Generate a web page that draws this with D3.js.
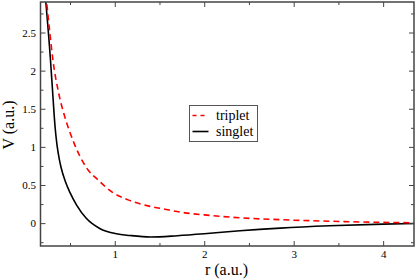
<!DOCTYPE html>
<html><head><meta charset="utf-8">
<script src="https://cdn.jsdelivr.net/npm/d3@7/dist/d3.min.js"></script>
<style>
body{margin:0;background:#fff}
svg{display:block}
svg text{font-family:"Liberation Serif","Times New Roman","DejaVu Serif","Nimbus Roman","FreeSerif",serif !important;}
</style>
</head><body>
<script>
// Data (r in a.u., V in a.u.)
const singletR = [0.222, 0.281, 0.304, 0.333, 0.355, 0.38, 0.40, 0.45, 0.50, 0.572, 0.684, 0.832, 1.019, 1.168, 1.4, 1.7, 2.0, 2.4, 2.85, 3.4, 4.0, 4.345];
const singletV = [3.0, 2.15, 1.75, 1.26, 1.02, 0.84, 0.73, 0.54, 0.40, 0.24, 0.06, -0.07, -0.14, -0.162, -0.182, -0.165, -0.14, -0.10, -0.065, -0.035, -0.013, -0.005];
const tripletR = [0.23, 0.274, 0.31, 0.374, 0.44, 0.49, 0.605, 0.702, 0.814, 0.963, 1.149, 1.372, 1.559, 1.763, 2.0, 2.4, 2.85, 3.4, 4.0, 4.345];
const tripletV = [3.0, 2.5, 2.13, 1.70, 1.40, 1.22, 0.89, 0.697, 0.566, 0.413, 0.305, 0.226, 0.183, 0.139, 0.108, 0.07, 0.045, 0.025, 0.01, 0.005];
const xMajor = [1, 2, 3, 4];
const xMinor = [0.5, 1.5, 2.5, 3.5];
const yMajor = [0, 0.5, 1, 1.5, 2, 2.5];
const yMinor = [-0.25, 0.25, 0.75, 1.25, 1.75, 2.25, 2.75];
const seriesNames = ["triplet", "singlet"];

const W = 415, H = 279;
const L = 40.5, R = 414, T = 2, B = 246;
const svg = d3.select("body").append("svg").attr("width", W).attr("height", H);
const x = d3.scaleLinear().domain([0.17, 4.345]).range([L, R]);
const y = d3.scaleLinear().domain([-0.3, 2.9]).range([B, T]);

svg.append("clipPath").attr("id", "clip").append("rect")
  .attr("x", L).attr("y", T).attr("width", R - L).attr("height", B - T);

const line = d3.line().x(d => x(d[0])).y(d => y(d[1])).curve(d3.curveMonotoneX);
const trip = tripletR.map((r, i) => [r, tripletV[i]]);
const sing = singletR.map((r, i) => [r, singletV[i]]);

const g = svg.append("g").attr("clip-path", "url(#clip)");
g.append("path").datum(sing).attr("d", line).attr("fill", "none")
  .attr("stroke", "#000").attr("stroke-width", 1.6);
g.append("path").datum(trip).attr("d", line).attr("fill", "none")
  .attr("stroke", "#ff0000").attr("stroke-width", 1.6).attr("stroke-dasharray", "6,4");

function styleAxis(sel) {
  sel.select(".domain").remove();
  sel.selectAll(".tick line").attr("stroke", "#444").attr("stroke-width", 1);
  sel.selectAll("text").attr("font-size", 11).attr("fill", "#000");
}
const fmt = d => d3.format("")(d);
svg.append("g").attr("transform", `translate(0,${B})`)
  .call(d3.axisBottom(x).tickValues(xMajor).tickSize(-5).tickPadding(4).tickFormat(fmt)).call(styleAxis);
svg.append("g").attr("transform", `translate(0,${B})`)
  .call(d3.axisBottom(x).tickValues(xMinor).tickSize(-3).tickFormat("")).call(styleAxis);
svg.append("g").attr("transform", `translate(0,${T})`)
  .call(d3.axisTop(x).tickValues(xMajor).tickSize(-5).tickFormat("")).call(styleAxis);
svg.append("g").attr("transform", `translate(0,${T})`)
  .call(d3.axisTop(x).tickValues(xMinor).tickSize(-3).tickFormat("")).call(styleAxis);
svg.append("g").attr("transform", `translate(${L},0)`)
  .call(d3.axisLeft(y).tickValues(yMajor).tickSize(-5).tickPadding(4.5).tickFormat(fmt)).call(styleAxis);
svg.append("g").attr("transform", `translate(${L},0)`)
  .call(d3.axisLeft(y).tickValues(yMinor).tickSize(-3).tickFormat("")).call(styleAxis);
svg.append("g").attr("transform", `translate(${R},0)`)
  .call(d3.axisRight(y).tickValues(yMajor).tickSize(-5).tickFormat("")).call(styleAxis);
svg.append("g").attr("transform", `translate(${R},0)`)
  .call(d3.axisRight(y).tickValues(yMinor).tickSize(-3).tickFormat("")).call(styleAxis);

svg.append("rect").attr("x", L).attr("y", T).attr("width", R - L).attr("height", B - T)
  .attr("fill", "none").attr("stroke", "#444").attr("stroke-width", 1.5);

svg.append("text").attr("x", 226.5).attr("y", 274.5).attr("text-anchor", "middle")
  .attr("font-size", 16).text("r (a.u.)");
svg.append("text").attr("transform", "translate(14,125) rotate(-90)").attr("text-anchor", "middle")
  .attr("font-size", 16).text("V (a.u.)");

// legend
const lg = svg.append("g");
lg.append("rect").attr("x", 189.5).attr("y", 105.5).attr("width", 68).attr("height", 36)
  .attr("fill", "#fff").attr("stroke", "#555").attr("stroke-width", 1);
const styles = [{c: "#ff0000", d: "4,4"}, {c: "#000", d: null}];
seriesNames.forEach((n, i) => {
  const yy = 115.5 + i * 16;
  const l = lg.append("line").attr("x1", 192.5).attr("x2", 208.5).attr("y1", yy).attr("y2", yy)
    .attr("stroke", styles[i].c).attr("stroke-width", 1.6);
  if (styles[i].d) l.attr("stroke-dasharray", styles[i].d);
  lg.append("text").attr("x", 216).attr("y", yy + 4).attr("font-size", 14).text(n);
});
</script>
</body></html>
